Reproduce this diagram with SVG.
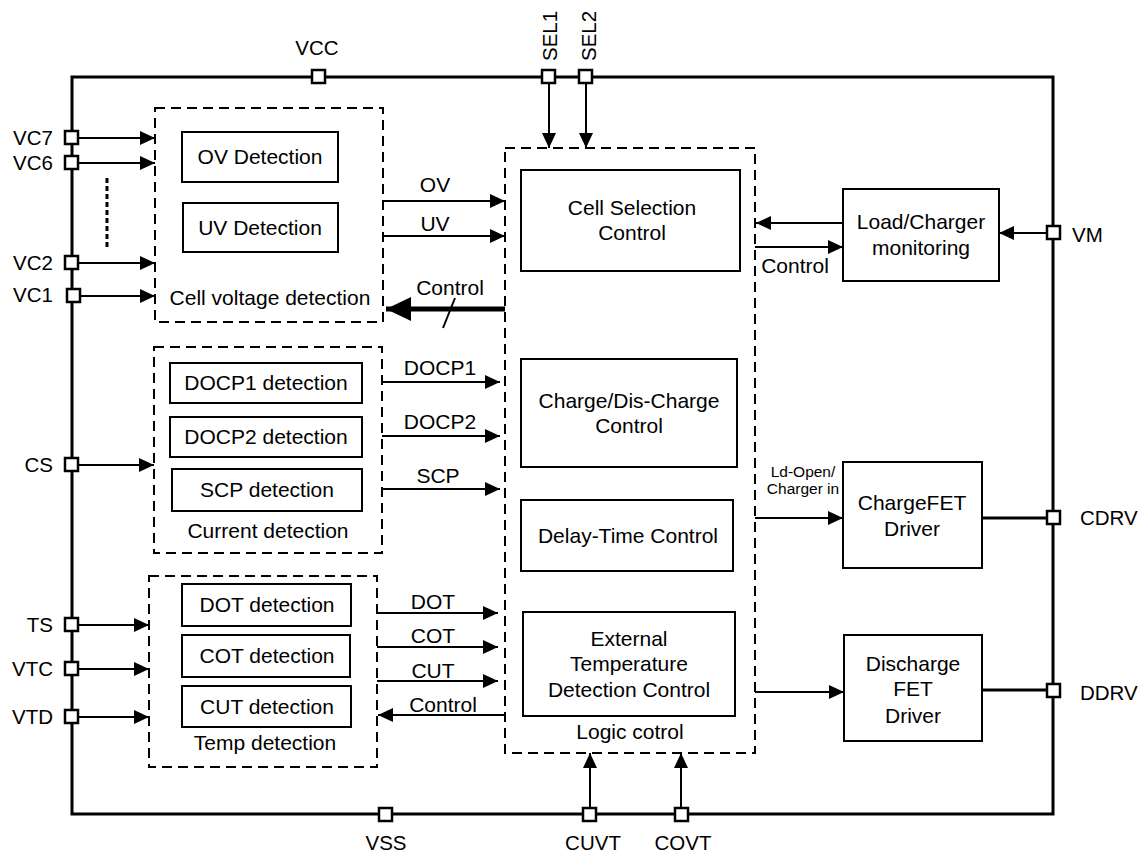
<svg xmlns="http://www.w3.org/2000/svg" width="1147" height="856" viewBox="0 0 1147 856">
<style>
text{font-family:"Liberation Sans",Arial,sans-serif;font-size:21px;fill:#000}
.m{text-anchor:middle}
.e{text-anchor:end}
.p{font-size:20.5px}
.sm{font-size:15.5px}
.box{fill:#fff;stroke:#000;stroke-width:2}
.dash{fill:none;stroke:#000;stroke-width:2;stroke-dasharray:10,6}
.pin{fill:#fff;stroke:#000;stroke-width:2.5}
.frame{fill:none;stroke:#000;stroke-width:3}
.w{fill:none;stroke:#000;stroke-width:2}
.a{fill:none;stroke:#000;stroke-width:2;marker-end:url(#ah)}
</style>
<defs>
<marker id="ah" markerUnits="userSpaceOnUse" markerWidth="15" markerHeight="14" viewBox="0 0 15 14" refX="15" refY="7" orient="auto"><path d="M0,0 L15,7 L0,14 z" fill="#000"/></marker>
<marker id="ahb" markerUnits="userSpaceOnUse" markerWidth="25" markerHeight="24" viewBox="0 0 25 24" refX="25" refY="12" orient="auto"><path d="M0,0 L25,12 L0,24 z" fill="#000"/></marker>
</defs>
<rect width="1147" height="856" fill="#fff"/>

<g id="frame">
<rect class="frame" x="72" y="77" width="981" height="737"/>
</g>

<g id="connectors">
<line class="a" x1="78" y1="138" x2="155" y2="138"/>
<line class="a" x1="78" y1="163" x2="155" y2="163"/>
<line class="a" x1="78" y1="263" x2="155" y2="263"/>
<line class="a" x1="80" y1="296" x2="155" y2="296"/>
<line x1="107" y1="178" x2="107" y2="250" stroke="#000" stroke-width="3" stroke-dasharray="5,3"/>
<line class="a" x1="78" y1="465" x2="154" y2="465"/>
<line class="a" x1="78" y1="625" x2="149" y2="625"/>
<line class="a" x1="78" y1="669" x2="149" y2="669"/>
<line class="a" x1="78" y1="717" x2="149" y2="717"/>
<line class="a" x1="549" y1="82" x2="549" y2="148"/>
<line class="a" x1="586" y1="82" x2="586" y2="148"/>
<line class="a" x1="383" y1="201" x2="505" y2="201"/>
<line class="a" x1="383" y1="236" x2="505" y2="236"/>
<line x1="505" y1="309" x2="386" y2="309" stroke="#000" stroke-width="5" marker-end="url(#ahb)"/>
<line class="w" x1="443" y1="328" x2="455" y2="298"/>
<line class="a" x1="382" y1="382" x2="500" y2="382"/>
<line class="a" x1="382" y1="436" x2="500" y2="436"/>
<line class="a" x1="382" y1="489" x2="500" y2="489"/>
<line class="a" x1="377" y1="613" x2="498" y2="613"/>
<line class="a" x1="377" y1="647" x2="498" y2="647"/>
<line class="a" x1="377" y1="681" x2="498" y2="681"/>
<line class="a" x1="505" y1="715" x2="378" y2="715"/>
<line class="a" x1="843" y1="223" x2="756" y2="223"/>
<line class="a" x1="755" y1="247" x2="843" y2="247"/>
<line class="a" x1="1047" y1="233" x2="999" y2="233"/>
<line class="a" x1="755" y1="518" x2="843" y2="518"/>
<line class="a" x1="755" y1="692" x2="844" y2="692"/>
<line x1="982" y1="518" x2="1047" y2="518" stroke="#000" stroke-width="3"/>
<line x1="982" y1="690" x2="1047" y2="690" stroke="#000" stroke-width="3"/>
<line class="a" x1="590" y1="808" x2="590" y2="753"/>
<line class="a" x1="681" y1="808" x2="681" y2="753"/>
</g>

<g id="cell-voltage-detection">
<rect class="dash" x="155" y="108" width="228" height="214"/>
<text class="m" x="270" y="305">Cell voltage detection</text>
</g>
<g id="ov-detection">
<rect class="box" x="182" y="132" width="156" height="50"/>
<text class="m" x="260" y="164">OV Detection</text>
</g>
<g id="uv-detection">
<rect class="box" x="183" y="203" width="155" height="49"/>
<text class="m" x="260" y="235">UV Detection</text>
</g>

<g id="current-detection">
<rect class="dash" x="154" y="347" width="228" height="206"/>
<text class="m" x="268" y="538">Current detection</text>
</g>
<g id="docp1-detection">
<rect class="box" x="170" y="363" width="192" height="40"/>
<text class="m" x="266" y="390">DOCP1 detection</text>
</g>
<g id="docp2-detection">
<rect class="box" x="170" y="417" width="192" height="40"/>
<text class="m" x="266" y="444">DOCP2 detection</text>
</g>
<g id="scp-detection">
<rect class="box" x="172" y="469" width="190" height="42"/>
<text class="m" x="267" y="497">SCP detection</text>
</g>

<g id="temp-detection">
<rect class="dash" x="149" y="576" width="228" height="191"/>
<text class="m" x="265" y="750">Temp detection</text>
</g>
<g id="dot-detection">
<rect class="box" x="182" y="584" width="169" height="42"/>
<text class="m" x="267" y="612">DOT detection</text>
</g>
<g id="cot-detection">
<rect class="box" x="182" y="635" width="168" height="42"/>
<text class="m" x="267" y="663">COT detection</text>
</g>
<g id="cut-detection">
<rect class="box" x="182" y="686" width="169" height="41"/>
<text class="m" x="267" y="714">CUT detection</text>
</g>

<g id="logic-control">
<rect class="dash" x="505" y="148" width="250" height="605"/>
<text class="m" x="630" y="739">Logic cotrol</text>
</g>
<g id="cell-selection-control">
<rect class="box" x="521" y="170" width="219" height="101"/>
<text class="m" x="632" y="215">Cell Selection</text>
<text class="m" x="632" y="240">Control</text>
</g>
<g id="charge-discharge-control">
<rect class="box" x="521" y="359" width="216" height="108"/>
<text class="m" x="629" y="408">Charge/Dis-Charge</text>
<text class="m" x="629" y="433">Control</text>
</g>
<g id="delay-time-control">
<rect class="box" x="521" y="500" width="212" height="71"/>
<text class="m" x="628" y="543">Delay-Time Control</text>
</g>
<g id="external-temperature-detection-control">
<rect class="box" x="523" y="612" width="212" height="104"/>
<text class="m" x="629" y="646">External</text>
<text class="m" x="629" y="671">Temperature</text>
<text class="m" x="629" y="697">Detection Control</text>
</g>

<g id="load-charger-monitoring">
<rect class="box" x="843" y="189" width="156" height="92"/>
<text class="m" x="921" y="229">Load/Charger</text>
<text class="m" x="921" y="255">monitoring</text>
</g>
<g id="chargefet-driver">
<rect class="box" x="843" y="462" width="139" height="106"/>
<text class="m" x="912" y="510">ChargeFET</text>
<text class="m" x="912" y="536">Driver</text>
</g>
<g id="discharge-fet-driver">
<rect class="box" x="844" y="635" width="138" height="106"/>
<text class="m" x="913" y="671">Discharge</text>
<text class="m" x="913" y="696">FET</text>
<text class="m" x="913" y="723">Driver</text>
</g>

<g id="labels">
<text class="m" x="435" y="192">OV</text>
<text class="m" x="435" y="231">UV</text>
<text class="m" x="450" y="295">Control</text>
<text class="m" x="440" y="375">DOCP1</text>
<text class="m" x="440" y="429">DOCP2</text>
<text class="m" x="438" y="483">SCP</text>
<text class="m" x="433" y="609">DOT</text>
<text class="m" x="433" y="643">COT</text>
<text class="m" x="433" y="678">CUT</text>
<text class="m" x="443" y="712">Control</text>
<text class="m" x="795" y="273">Control</text>
<text class="m sm" x="803" y="477">Ld-Open/</text>
<text class="m sm" x="803" y="494">Charger in</text>
</g>

<g id="pins">
<g id="pin-vcc"><rect class="pin" x="312" y="70" width="13" height="13"/><text class="m p" x="317" y="55">VCC</text></g>
<g id="pin-sel1"><rect class="pin" x="542" y="70" width="13" height="13"/><text class="p" transform="translate(557,61) rotate(-90)">SEL1</text></g>
<g id="pin-sel2"><rect class="pin" x="579" y="70" width="13" height="13"/><text class="p" transform="translate(596,61) rotate(-90)">SEL2</text></g>
<g id="pin-vc7"><rect class="pin" x="65" y="131" width="13" height="13"/><text class="e p" x="53" y="145">VC7</text></g>
<g id="pin-vc6"><rect class="pin" x="65" y="156" width="13" height="13"/><text class="e p" x="53" y="170">VC6</text></g>
<g id="pin-vc2"><rect class="pin" x="65" y="256" width="13" height="13"/><text class="e p" x="53" y="270">VC2</text></g>
<g id="pin-vc1"><rect class="pin" x="67" y="289" width="13" height="13"/><text class="e p" x="53" y="302">VC1</text></g>
<g id="pin-cs"><rect class="pin" x="65" y="458" width="13" height="13"/><text class="e p" x="53" y="472">CS</text></g>
<g id="pin-ts"><rect class="pin" x="65" y="618" width="13" height="13"/><text class="e p" x="53" y="632">TS</text></g>
<g id="pin-vtc"><rect class="pin" x="65" y="662" width="13" height="13"/><text class="e p" x="53" y="676">VTC</text></g>
<g id="pin-vtd"><rect class="pin" x="65" y="710" width="13" height="13"/><text class="e p" x="53" y="724">VTD</text></g>
<g id="pin-vm"><rect class="pin" x="1047" y="226" width="13" height="13"/><text class="p" x="1072" y="242">VM</text></g>
<g id="pin-cdrv"><rect class="pin" x="1047" y="511" width="13" height="13"/><text class="p" x="1080" y="525">CDRV</text></g>
<g id="pin-ddrv"><rect class="pin" x="1047" y="684" width="13" height="13"/><text class="p" x="1080" y="700">DDRV</text></g>
<g id="pin-vss"><rect class="pin" x="379" y="808" width="13" height="13"/><text class="m p" x="386" y="850">VSS</text></g>
<g id="pin-cuvt"><rect class="pin" x="583" y="808" width="13" height="13"/><text class="m p" x="593" y="850">CUVT</text></g>
<g id="pin-covt"><rect class="pin" x="675" y="808" width="13" height="13"/><text class="m p" x="683" y="850">COVT</text></g>
</g>
</svg>
